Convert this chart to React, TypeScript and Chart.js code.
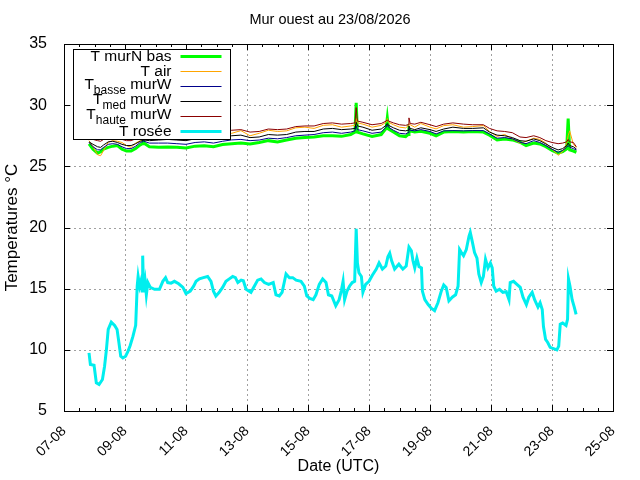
import React, { useEffect, useRef } from "react";
import Chart from "chart.js/auto";

const FONT = "'Liberation Sans', Arial, Helvetica, sans-serif";

const chartTitle = "Mur ouest au 23/08/2026";
const xTitle = "Date (UTC)";
const yTitle = "Temperatures °C";

// x ticks: one label every 2 days, x values are days since 07-08 00:00 UTC
const dateLabels = ["07-08", "09-08", "11-08", "13-08", "15-08", "17-08", "19-08", "21-08", "23-08", "25-08"];

// legend labels, gnuplot style subscripts
const seriesLabels = ["T murN bas", "T air", "T_{basse} murW", "T_{med} murW", "T_{haute} murW", "T rosée"];
const seriesColors = ["#00ff00", "#ffa500", "#00008b", "#000000", "#8b0000", "#00eeee"];
const seriesWidths = [3, 1, 1, 1, 1, 3];

// wall / air temperatures, shared time base (days)
const tempDays = [
  0.82, 0.95, 1.1, 1.2, 1.3, 1.45, 1.6, 1.75, 1.9, 2.05,
  2.2, 2.35, 2.5, 2.57, 2.59, 2.62, 2.8, 3.1, 3.4, 3.7,
  4.0, 4.3, 4.6, 4.9, 5.2, 5.5, 5.8, 6.1, 6.4, 6.7,
  7.0, 7.3, 7.6, 7.9, 8.2, 8.5, 8.8, 9.1, 9.4, 9.54,
  9.58, 9.62, 9.8, 10.1, 10.4, 10.56, 10.6, 10.64, 10.8, 11.0,
  11.2, 11.28, 11.31, 11.35, 11.5, 11.7, 12.0, 12.2, 12.45, 12.75,
  13.1, 13.4, 13.75, 13.95, 14.2, 14.45, 14.7, 14.95, 15.15, 15.4,
  15.6, 15.8, 16.0, 16.2, 16.35, 16.48, 16.53, 16.58, 16.7, 16.8,
];

const tMurNBas = [
  26.83, 26.4, 26.07, 26.2, 26.42, 26.55, 26.65, 26.7, 26.4, 26.25,
  26.25, 26.45, 26.75, 26.85, 27.7, 26.9, 26.6, 26.56, 26.58, 26.55,
  26.5, 26.65, 26.68, 26.6, 26.78, 26.85, 26.9, 26.83, 26.95, 27.1,
  27.0, 27.15, 27.3, 27.35, 27.4, 27.5, 27.5, 27.45, 27.6, 27.8,
  30.2, 27.8, 27.65, 27.45, 27.6, 28.1, 28.95, 28.05, 27.8, 27.5,
  27.43, 27.6, 28.06, 27.9, 27.8, 27.87, 27.7, 27.5, 27.8, 27.84,
  27.8, 27.84, 27.8, 27.55, 27.16, 27.24, 27.16, 26.97, 26.7, 26.9,
  26.83, 26.6, 26.3, 26.07, 26.2, 26.42, 28.9, 26.34, 26.25, 26.15,
];

const tAir = [
  27.1, 26.6, 25.95, 25.87, 26.3, 26.97, 27.1, 27.05, 26.95, 26.7,
  26.55, 26.9, 27.1, 27.15, 27.3, 27.2, 27.35, 27.4, 27.45, 27.4,
  27.3, 27.5, 27.55, 27.45, 27.6, 27.7, 27.92, 27.5, 27.7, 27.95,
  27.85, 27.9, 28.15, 28.2, 28.1, 28.35, 28.4, 28.2, 28.3, 28.35,
  28.9, 28.55, 28.45, 28.2, 28.35, 28.6, 28.9, 28.6, 28.4, 28.2,
  28.14, 28.3, 28.5, 28.4, 28.2, 28.5, 28.2, 28.06, 28.33, 28.4,
  28.2, 28.25, 28.33, 27.85, 27.45, 27.6, 27.25, 26.9, 27.05, 27.3,
  27.2, 26.9, 26.4, 25.9, 26.2, 26.85, 27.5, 27.9, 26.8, 26.56,
];

const tBasseMurW = [
  26.95, 26.6, 26.35, 26.35, 26.55, 26.8, 26.85, 26.8, 26.6, 26.45,
  26.45, 26.65, 26.95, 27.0, 27.15, 27.05, 26.9, 26.9, 26.9, 26.85,
  26.8, 26.95, 27.0, 26.9, 27.05, 27.16, 27.2, 27.1, 27.15, 27.3,
  27.25, 27.35, 27.5, 27.55, 27.6, 27.75, 27.8, 27.7, 27.8, 27.9,
  28.3, 28.0, 27.9, 27.7, 27.8, 28.2, 28.4, 28.2, 27.95, 27.7,
  27.65, 27.75, 28.1, 27.95, 27.9, 28.0, 27.85, 27.65, 27.9, 27.92,
  27.9, 27.92, 27.92, 27.65, 27.3, 27.35, 27.25, 26.97, 26.85, 27.1,
  26.95, 26.7, 26.4, 26.15, 26.3, 26.56, 26.7, 26.56, 26.45, 26.34,
];

const tMedMurW = [
  27.0, 26.8, 26.6, 26.55, 26.75, 27.0, 27.05, 26.95, 26.8, 26.7,
  26.7, 26.85, 27.05, 27.1, 27.3, 27.15, 27.1, 27.15, 27.2, 27.15,
  27.1, 27.25, 27.3, 27.25, 27.4, 27.5, 27.55, 27.35, 27.4, 27.6,
  27.55, 27.6, 27.8, 27.85, 27.85, 28.05, 28.1, 28.0, 28.05, 28.1,
  28.6, 28.3, 28.2, 27.95, 28.05, 28.35, 28.5, 28.35, 28.15, 27.95,
  27.9, 27.95, 28.3, 28.1, 28.0, 28.15, 28.0, 27.85, 28.05, 28.2,
  28.1, 28.1, 28.15, 27.8, 27.55, 27.5, 27.35, 27.1, 27.05, 27.24,
  27.1, 26.83, 26.55, 26.34, 26.45, 26.7, 26.9, 26.7, 26.6, 26.42,
];

const tHauteMurW = [
  27.4, 27.2, 27.1, 27.05, 27.2, 27.45, 27.5, 27.4, 27.2, 27.1,
  27.1, 27.25, 27.4, 27.45, 27.6, 27.5, 27.55, 27.6, 27.65, 27.6,
  27.55, 27.7, 27.75, 27.7, 27.85, 27.95, 28.0, 27.8, 27.85, 28.05,
  28.0, 28.05, 28.25, 28.3, 28.3, 28.5, 28.55, 28.45, 28.5, 28.55,
  29.8, 28.7, 28.6, 28.4, 28.5, 28.7, 28.8, 28.7, 28.55, 28.4,
  28.35, 28.4, 28.96, 28.5, 28.45, 28.6, 28.4, 28.25, 28.45, 28.55,
  28.45, 28.4, 28.4, 28.1, 27.9, 27.85, 27.75, 27.4, 27.35, 27.5,
  27.35, 27.1, 26.95, 26.85, 26.9, 27.0, 27.2, 27.0, 26.95, 26.6,
];

// dew point, own time base (days)
const roseeDays = [
  0.82, 0.865, 0.985, 1.06, 1.15, 1.26, 1.33, 1.39, 1.45, 1.55,
  1.66, 1.74, 1.8, 1.86, 1.93, 2.02, 2.1, 2.17, 2.26, 2.35,
  2.4, 2.43, 2.48, 2.52, 2.56, 2.58, 2.61, 2.66, 2.7, 2.75,
  2.83, 2.97, 3.13, 3.24, 3.33, 3.4, 3.51, 3.62, 3.76, 3.9,
  4.0, 4.14, 4.25, 4.33, 4.44, 4.57, 4.71, 4.82, 4.9, 4.98,
  5.09, 5.2, 5.31, 5.42, 5.53, 5.62, 5.7, 5.81, 5.88, 5.97,
  6.13, 6.24, 6.35, 6.46, 6.57, 6.71, 6.86, 6.95, 7.06, 7.15,
  7.22, 7.28, 7.39, 7.5, 7.61, 7.77, 7.88, 7.96, 8.06, 8.17,
  8.26, 8.37, 8.48, 8.59, 8.67, 8.78, 8.91, 9.02, 9.09, 9.15,
  9.2, 9.28, 9.36, 9.45, 9.53, 9.58, 9.62, 9.67, 9.75, 9.8,
  9.89, 10.0, 10.11, 10.24, 10.33, 10.44, 10.55, 10.62, 10.68, 10.74,
  10.84, 10.98, 11.11, 11.22, 11.31, 11.39, 11.44, 11.5, 11.57, 11.64,
  11.72, 11.75, 11.83, 11.94, 12.04, 12.15, 12.26, 12.37, 12.45, 12.53,
  12.62, 12.73, 12.84, 12.92, 12.97, 13.03, 13.1, 13.19, 13.28, 13.32,
  13.39, 13.46, 13.54, 13.6, 13.68, 13.75, 13.82, 13.9, 13.98, 14.04,
  14.09, 14.17, 14.28, 14.39, 14.5, 14.59, 14.63, 14.74, 14.85, 14.96,
  15.05, 15.16, 15.24, 15.35, 15.43, 15.54, 15.61, 15.68, 15.72, 15.79,
  15.86, 15.94, 16.05, 16.16, 16.22, 16.27, 16.35, 16.46, 16.51, 16.54,
  16.59, 16.66, 16.73, 16.79,
];

const tRosee = [
  9.75, 8.8, 8.74, 7.3, 7.16, 7.57, 8.66, 10.0, 11.67, 12.27,
  12.0, 11.67, 10.6, 9.48, 9.34, 9.48, 9.9, 10.35, 11.1, 12.0,
  15.2, 16.0, 15.2, 15.6, 14.8, 17.7, 14.7, 15.6, 14.5, 15.5,
  15.1, 14.95, 14.95, 15.6, 15.9, 15.5, 15.45, 15.6, 15.4, 15.1,
  14.6, 14.8, 15.2, 15.6, 15.8, 15.9, 16.0, 15.6, 14.8, 14.4,
  14.7, 15.1, 15.6, 15.8, 16.0, 15.9, 15.5, 15.7, 15.65, 14.95,
  14.7, 15.2, 15.7, 15.8, 15.5, 15.35, 15.5, 14.5, 14.4, 14.7,
  15.5, 16.2, 15.9, 15.9, 15.7, 15.6, 15.2, 14.4, 14.2, 14.1,
  14.5, 15.35, 15.8, 15.5, 14.5, 14.4, 13.6, 14.1, 14.8, 15.6,
  14.1, 14.8, 15.2, 15.5, 15.6, 19.9, 17.1, 16.3, 16.0, 14.7,
  15.35, 15.6, 16.1, 16.6, 17.1, 16.6, 16.85, 17.6, 17.9, 17.3,
  16.6, 17.0, 16.6, 16.85, 18.4, 18.1, 17.3, 16.7, 17.5, 16.8,
  16.7, 14.8, 14.1, 13.7, 13.4, 13.2, 13.85, 14.8, 15.3, 15.1,
  14.0, 14.3, 14.5, 15.2, 18.2, 17.95, 17.7, 18.2, 19.3, 19.6,
  18.8, 17.95, 17.5, 16.2, 15.5, 16.0, 17.4, 16.7, 17.1, 16.7,
  15.2, 14.8, 14.95, 14.7, 14.75, 14.1, 15.5, 15.6, 15.35, 15.1,
  14.3, 13.7, 14.3, 14.7, 14.1, 13.5, 13.85, 13.3, 11.9, 10.85,
  10.6, 10.2, 10.1, 10.0, 10.3, 12.1, 12.2, 12.0, 12.5, 15.8,
  15.2, 14.1, 13.5, 12.9,
];

const yMin = 5;
const yMax = 35;
const yStep = 5;
const xStep = 2;

const toPoints = (days: number[], values: number[]) => days.map((d, i) => ({ x: d, y: values[i] }));

// dotted gnuplot grid, under the data
const gridPlugin = {
  id: "gnuGrid",
  beforeDatasetsDraw(chart: any) {
    const { ctx, chartArea: a, scales } = chart;
    const xs = scales.x;
    const ys = scales.y;
    ctx.save();
    ctx.strokeStyle = "#a0a0a0";
    ctx.lineWidth = 1;
    ctx.setLineDash([2, 3]);
    ctx.beginPath();
    for (let d = xs.min + xStep; d < xs.max; d += xStep) {
      const px = Math.round(xs.getPixelForValue(d)) + 0.5;
      ctx.moveTo(px, a.bottom);
      ctx.lineTo(px, a.top);
    }
    for (let v = yMin + yStep; v < yMax; v += yStep) {
      const py = Math.round(ys.getPixelForValue(v)) + 0.5;
      ctx.moveTo(a.left, py);
      ctx.lineTo(a.right, py);
    }
    ctx.stroke();
    ctx.restore();
  },
};

// gnuplot-like frame, inward ticks (with minor ticks on x), mirrored on top/right
const framePlugin = {
  id: "gnuFrame",
  afterDatasetsDraw(chart: any) {
    const { ctx, chartArea: a, scales } = chart;
    const xs = scales.x;
    const ys = scales.y;
    ctx.save();
    ctx.strokeStyle = "#000";
    ctx.lineWidth = 1;
    ctx.beginPath();
    for (let d = xs.min; d <= xs.max + 1e-9; d += 0.5) {
      const px = Math.round(xs.getPixelForValue(d)) + 0.5;
      const len = Math.abs(d % xStep) < 1e-9 ? 6 : 3;
      ctx.moveTo(px, a.bottom);
      ctx.lineTo(px, a.bottom - len);
      ctx.moveTo(px, a.top);
      ctx.lineTo(px, a.top + len);
    }
    for (let v = yMin; v <= yMax; v += yStep) {
      const py = Math.round(ys.getPixelForValue(v)) + 0.5;
      ctx.moveTo(a.left, py);
      ctx.lineTo(a.left + 6, py);
      ctx.moveTo(a.right, py);
      ctx.lineTo(a.right - 6, py);
    }
    ctx.stroke();
    ctx.strokeRect(Math.round(a.left) + 0.5, Math.round(a.top) + 0.5, Math.round(a.right - a.left), Math.round(a.bottom - a.top));
    ctx.restore();
  },
};

// opaque boxed key, labels right-aligned with samples on the right
const keyPlugin = {
  id: "gnuKey",
  afterDraw(chart: any) {
    const { ctx, chartArea: a } = chart;
    const left = Math.round(a.left) + 9.5;
    const top = Math.round(a.top) + 5.5;
    const w = 157;
    const h = 90;
    ctx.save();
    ctx.fillStyle = "#fff";
    ctx.fillRect(left, top, w, h);
    ctx.strokeStyle = "#000";
    ctx.lineWidth = 1;
    ctx.strokeRect(left, top, w, h);
    const mainFont = `15.5px ${FONT}`;
    const subFont = `12px ${FONT}`;
    ctx.textBaseline = "middle";
    ctx.textAlign = "left";
    seriesLabels.forEach((label, i) => {
      const rowY = top + 7 + i * 15;
      const parts = label.split(/_\{([^}]*)\}/);
      const hasSub = parts.length > 1;
      const widths = parts.map((p, k) => {
        ctx.font = k % 2 === 1 ? subFont : mainFont;
        return ctx.measureText(p).width;
      });
      const total = widths.reduce((s, v) => s + v, 0);
      let x = left + 98 - total;
      parts.forEach((p, k) => {
        const isSub = k % 2 === 1;
        ctx.font = isSub ? subFont : mainFont;
        ctx.fillStyle = "#000";
        ctx.fillText(p, x, isSub ? rowY + 4 : hasSub ? rowY - 2 : rowY);
        x += widths[k];
      });
      ctx.strokeStyle = seriesColors[i];
      ctx.lineWidth = seriesWidths[i];
      ctx.beginPath();
      ctx.moveTo(left + 107, rowY);
      ctx.lineTo(left + 148, rowY);
      ctx.stroke();
    });
    ctx.font = `14.5px ${FONT}`;
    ctx.textAlign = "center";
    ctx.fillStyle = "#000";
    ctx.fillText(chartTitle, 330, 20);
    ctx.restore();
  },
};

export default function App() {
  const chartRef = useRef<HTMLCanvasElement>(null);

  useEffect(() => {
    document.body.style.margin = "0";
    let myChart: Chart | null = null;
    const ctx = chartRef.current?.getContext("2d");
    if (!ctx) return;

    Chart.defaults.font.family = FONT;
    Chart.defaults.font.size = 16;
    Chart.defaults.color = "#000";

    const series = [
      toPoints(tempDays, tMurNBas),
      toPoints(tempDays, tAir),
      toPoints(tempDays, tBasseMurW),
      toPoints(tempDays, tMedMurW),
      toPoints(tempDays, tHauteMurW),
      toPoints(roseeDays, tRosee),
    ];

    myChart = new Chart(ctx, {
      type: "line",
      data: {
        datasets: series.map((data, i) => ({
          label: seriesLabels[i],
          data,
          borderColor: seriesColors[i],
          backgroundColor: seriesColors[i],
          borderWidth: seriesWidths[i],
          pointRadius: 0,
          tension: 0,
          fill: false,
          order: series.length - i,
        })),
      },
      options: {
        animation: false,
        responsive: false,
        events: [],
        layout: { padding: { top: 44, right: 27, left: 0, bottom: 0 } },
        plugins: {
          legend: { display: false },
          title: { display: false },
          tooltip: { enabled: false },
        },
        scales: {
          x: {
            type: "linear",
            min: 0,
            max: 18,
            afterFit: (scale: any) => {
              scale.height = 69;
            },
            ticks: {
              stepSize: xStep,
              autoSkip: false,
              maxRotation: 45,
              minRotation: 45,
              padding: 4,
              font: { size: 14 },
              callback: (value: any) => dateLabels[Math.round(Number(value) / xStep)] ?? "",
            },
            grid: { display: false },
            border: { display: false },
            title: { display: true, text: xTitle, font: { size: 16 }, padding: { top: 0, bottom: 4 } },
          },
          y: {
            min: yMin,
            max: yMax,
            afterFit: (scale: any) => {
              scale.width = 64;
            },
            ticks: { stepSize: yStep, padding: 9, font: { size: 16 } },
            grid: { display: false },
            border: { display: false },
            title: { display: true, text: yTitle, font: { size: 17 }, padding: { top: 2, bottom: 0 } },
          },
        },
      },
      plugins: [gridPlugin, framePlugin, keyPlugin],
    });

    return () => {
      if (myChart) myChart.destroy();
    };
  }, []);

  return (
    <div style={{ width: 640, height: 480, background: "#fff" }}>
      <canvas ref={chartRef} width={640} height={480} style={{ display: "block" }} />
    </div>
  );
}
